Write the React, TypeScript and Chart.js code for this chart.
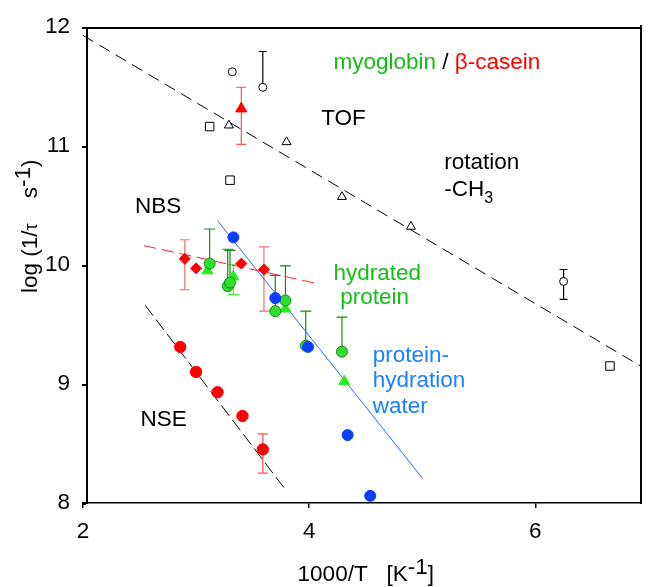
import React, { useEffect, useRef } from "react";
import { Chart, registerables } from "chart.js";

Chart.register(...registerables);

// ---------- data (1000/T in K^-1, log(1/tau s^-1)) ----------
// TOF, rotation -CH3 (open symbols)
const tofCircleX = [3.32, 3.59, 6.25];
const tofCircleY = [11.62, 11.49, 9.86];
const tofCircleLo = [null, null, 9.71];
const tofCircleHi = [null, 11.79, 9.96];

const tofSquareX = [3.12, 3.3, 6.66];
const tofSquareY = [11.16, 10.71, 9.15];

const tofTriangleX = [3.29, 3.8, 4.29, 4.9];
const tofTriangleY = [11.17, 11.03, 10.57, 10.32];

// beta-casein TOF (red triangle)
const caseinTofX = [3.4];
const caseinTofY = [11.31];
const caseinTofLo = [11.01];
const caseinTofHi = [11.49];

// beta-casein NBS (red diamonds)
const caseinNbsX = [2.9, 3.0, 3.4, 3.6];
const caseinNbsY = [10.05, 9.97, 10.01, 9.96];
const caseinNbsLo = [9.79, null, null, 9.61];
const caseinNbsHi = [10.21, null, null, 10.15];

// myoglobin hydrated protein (green circles)
const myoCircleX = [3.12, 3.28, 3.3, 3.7, 3.79, 3.97, 4.29];
const myoCircleY = [10.01, 9.82, 9.85, 9.61, 9.7, 9.32, 9.27];
const myoCircleHi = [10.3, 10.13, 10.12, 9.91, 9.99, 9.61, 9.56];

// myoglobin (green triangles)
const myoTriX = [3.1, 3.33, 3.79, 4.31];
const myoTriY = [9.95, 9.9, 9.63, 9.02];
const myoTriLo = [null, 9.75, null, null];
const myoTriHi = [null, 10.0, null, null];

// protein-hydration water (blue circles)
const waterX = [3.33, 3.7, 3.99, 4.34, 4.54];
const waterY = [10.23, 9.72, 9.31, 8.57, 8.06];

// NSE beta-casein (red circles)
const nseX = [2.86, 3.0, 3.19, 3.41, 3.59];
const nseY = [9.31, 9.1, 8.93, 8.73, 8.45];
const nseLo = [null, 9.08, null, null, 8.25];
const nseHi = [null, 9.12, null, null, 8.58];

// fit lines
const tofFitX = [2.0, 6.93];
const tofFitY = [11.925, 9.15];
const nbsFitX = [2.54, 4.08];
const nbsFitY = [10.16, 9.84];
const waterFitX = [3.19, 5.0];
const waterFitY = [10.37, 8.21];
const nseFitX = [2.55, 3.8];
const nseFitY = [9.66, 8.1];

// axes
const xTickValues = [2, 4, 6];
const yTickValues = [8, 9, 10, 11, 12];
const xMin = 2;
const xMax = 6.93;
const yMin = 8;
const yMax = 12;

// in-plot labels (data coordinates of text start / baseline)
const labelTexts = [
  { x: 4.215, y: 11.646, parts: [{ t: "myoglobin", c: "#14be14" }, { t: " / ", c: "#000" }, { t: "β-casein", c: "#ff0000" }] },
  { x: 4.107, y: 11.175, parts: [{ t: "TOF", c: "#000" }] },
  { x: 5.195, y: 10.801, parts: [{ t: "rotation", c: "#000" }] },
  { x: 5.195, y: 10.58, parts: [{ t: "-CH", c: "#000" }, { t: "3", c: "#000", s: 16, dy: 7 }] },
  { x: 2.459, y: 10.436, parts: [{ t: "NBS", c: "#000" }] },
  { x: 4.215, y: 9.871, parts: [{ t: "hydrated", c: "#14be14" }] },
  { x: 4.274, y: 9.674, parts: [{ t: "protein", c: "#14be14" }] },
  { x: 4.562, y: 9.186, parts: [{ t: "protein-", c: "#1a80ff" }] },
  { x: 4.562, y: 8.972, parts: [{ t: "hydration", c: "#1a80ff" }] },
  { x: 4.562, y: 8.758, parts: [{ t: "water", c: "#1a80ff" }] },
  { x: 2.509, y: 8.65, parts: [{ t: "NSE", c: "#000" }] },
];

const FONT = '"Liberation Sans", Arial, sans-serif';
const FS = 22.5;

const pts = (xs: number[], ys: number[]) => xs.map((x, i) => ({ x, y: ys[i] }));

function drawParts(ctx: CanvasRenderingContext2D, parts: any[], x0: number, y0: number) {
  let x = x0;
  for (const p of parts) {
    ctx.font = `${p.s || FS}px ${FONT}`;
    ctx.fillStyle = p.c || "#000";
    ctx.fillText(p.t, x, y0 + (p.dy || 0));
    x += ctx.measureText(p.t).width;
  }
  return x;
}

const errorBarPlugin = {
  id: "errorBars",
  beforeDatasetsDraw(chart: any) {
    const ctx = chart.ctx;
    const yScale = chart.scales.y;
    chart.data.datasets.forEach((ds: any, di: number) => {
      if (!ds.errLo && !ds.errHi) return;
      const meta = chart.getDatasetMeta(di);
      ctx.save();
      ctx.strokeStyle = ds.errColor || "#000";
      ctx.lineWidth = 1.2;
      const cap = ds.capHalf || 4;
      meta.data.forEach((el: any, i: number) => {
        const lo = ds.errLo ? ds.errLo[i] : null;
        const hi = ds.errHi ? ds.errHi[i] : null;
        if (lo == null && hi == null) return;
        const x = el.x;
        const yc = el.y;
        const yl = lo != null ? yScale.getPixelForValue(lo) : yc;
        const yh = hi != null ? yScale.getPixelForValue(hi) : yc;
        ctx.beginPath();
        ctx.moveTo(x, yl);
        ctx.lineTo(x, yh);
        if (lo != null) {
          ctx.moveTo(x - cap, yl);
          ctx.lineTo(x + cap, yl);
        }
        if (hi != null) {
          ctx.moveTo(x - cap, yh);
          ctx.lineTo(x + cap, yh);
        }
        ctx.stroke();
      });
      ctx.restore();
    });
  },
};

const textPlugin = {
  id: "texts",
  afterDraw(chart: any) {
    const { ctx, chartArea } = chart;
    const xs = chart.scales.x;
    const ys = chart.scales.y;
    ctx.save();
    // frame: offset y axis line, top line, right line, y tick marks
    ctx.fillStyle = "#000000";
    const L = Math.round(chartArea.left);
    const T = Math.round(chartArea.top);
    const R = Math.round(chartArea.right);
    const B = Math.round(chartArea.bottom);
    const axX = L + 3;
    ctx.fillRect(axX, T, 2, B - T + 1);
    ctx.fillRect(axX, T, R - axX + 1, 2);
    ctx.fillRect(R - 1, T - 2, 2, B - T + 3);
    for (const v of yTickValues) {
      const y = Math.round(ys.getPixelForValue(v));
      ctx.fillRect(L - 1, y, axX - L + 1, 2);
    }

    ctx.textBaseline = "alphabetic";
    ctx.textAlign = "left";
    for (const l of labelTexts) {
      drawParts(ctx, l.parts, xs.getPixelForValue(l.x), ys.getPixelForValue(l.y));
    }
    // x axis title
    const xParts = [{ t: "1000/T   [K" }, { t: "-1", dy: -7 }, { t: "]" }];
    ctx.font = `${FS}px ${FONT}`;
    let w = 0;
    for (const p of xParts) w += ctx.measureText(p.t).width;
    const cx = (chartArea.left + chartArea.right) / 2;
    drawParts(ctx, xParts, cx - w / 2 + 4, chartArea.bottom + 78);
    // y axis title
    ctx.translate(37, chartArea.bottom - 210);
    ctx.rotate(-Math.PI / 2);
    drawParts(
      ctx,
      [{ t: "log (1/" }, { t: "τ", s: 18 }, { t: "    s" }, { t: "-1", dy: -7 }, { t: ")" }],
      0,
      0
    );
    ctx.restore();
  },
};

export default function App() {
  const ref = useRef<HTMLCanvasElement>(null);
  useEffect(() => {
    const canvas = ref.current!;
    const lineDs = (xs: number[], ys: number[], color: string, dash: number[], width = 1) => ({
      type: "line",
      data: pts(xs, ys),
      borderColor: color,
      borderWidth: width,
      borderDash: dash,
      pointRadius: 0,
      showLine: true,
      fill: false,
      order: 20,
    });
    const chart = new Chart(canvas, {
      type: "scatter",
      data: {
        datasets: [
          lineDs(tofFitX, tofFitY, "#000", [12, 7]) as any,
          lineDs(nbsFitX, nbsFitY, "#ff2020", [12, 6]) as any,
          lineDs(waterFitX, waterFitY, "#2a6cff", []) as any,
          lineDs(nseFitX, nseFitY, "#000", [13, 5]) as any,
          {
            label: "TOF circles",
            data: pts(tofCircleX, tofCircleY),
            pointStyle: "circle",
            pointRadius: 4,
            backgroundColor: "#fff",
            borderColor: "#000",
            borderWidth: 1,
            errLo: tofCircleLo,
            errHi: tofCircleHi,
            errColor: "#000",
            capHalf: 4,
            order: 5,
          } as any,
          {
            label: "TOF squares",
            data: pts(tofSquareX, tofSquareY),
            pointStyle: "rect",
            pointRadius: 6,
            backgroundColor: "#fff",
            borderColor: "#000",
            borderWidth: 1,
            order: 5,
          },
          {
            label: "TOF triangles",
            data: pts(tofTriangleX, tofTriangleY),
            pointStyle: "triangle",
            pointRadius: 5.2,
            backgroundColor: "#fff",
            borderColor: "#000",
            borderWidth: 1,
            order: 5,
          },
          {
            label: "beta-casein TOF",
            data: pts(caseinTofX, caseinTofY),
            pointStyle: "triangle",
            pointRadius: 6.5,
            backgroundColor: "#ff0000",
            borderColor: "#ff0000",
            borderWidth: 1,
            errLo: caseinTofLo,
            errHi: caseinTofHi,
            errColor: "#ff5050",
            capHalf: 5,
            order: 4,
          } as any,
          {
            label: "beta-casein NBS",
            data: pts(caseinNbsX, caseinNbsY),
            pointStyle: "rectRot",
            pointRadius: 5.5,
            backgroundColor: "#ff0000",
            borderColor: "#ff0000",
            borderWidth: 1,
            errLo: caseinNbsLo,
            errHi: caseinNbsHi,
            errColor: "#ff6b6b",
            capHalf: 5,
            order: 4,
          } as any,
          {
            label: "myoglobin triangles",
            data: pts(myoTriX, myoTriY),
            pointStyle: "triangle",
            pointRadius: 6.3,
            backgroundColor: "#22ee22",
            borderColor: "#22ee22",
            borderWidth: 1,
            errLo: myoTriLo,
            errHi: myoTriHi,
            errColor: "#44ee44",
            capHalf: 5.5,
            order: 3,
          } as any,
          {
            label: "myoglobin circles",
            data: pts(myoCircleX, myoCircleY),
            pointStyle: "circle",
            pointRadius: 5.5,
            backgroundColor: "#2ee02e",
            borderColor: "#128c12",
            borderWidth: 1,
            errHi: myoCircleHi,
            errColor: "#138a13",
            capHalf: 5.5,
            order: 2,
          } as any,
          {
            label: "hydration water",
            data: pts(waterX, waterY),
            pointStyle: "circle",
            pointRadius: 5.5,
            backgroundColor: "#0b3dff",
            borderColor: "#0b3dff",
            borderWidth: 1,
            order: 1,
          },
          {
            label: "NSE",
            data: pts(nseX, nseY),
            pointStyle: "circle",
            pointRadius: 5.7,
            backgroundColor: "#ff0000",
            borderColor: "#ff0000",
            borderWidth: 1,
            errLo: nseLo,
            errHi: nseHi,
            errColor: "#ff5050",
            capHalf: 5,
            order: 1,
          } as any,
        ],
      },
      options: {
        responsive: false,
        animation: false,
        devicePixelRatio: 1,
        layout: { padding: { top: 20.7, right: 7, left: 0, bottom: 0 } },
        plugins: {
          legend: { display: false },
          tooltip: { enabled: false },
          title: { display: false },
        },
        scales: {
          x: {
            type: "linear",
            position: "bottom",
            min: xMin,
            max: xMax,
            afterBuildTicks: (s: any) => {
              s.ticks = xTickValues.map((v) => ({ value: v }));
            },
            afterFit: (s: any) => {
              s.height = 84;
            },
            grid: {
              display: true,
              drawOnChartArea: false,
              drawTicks: true,
              tickLength: 5,
              color: "#000",
              lineWidth: 1.5,
            },
            border: { display: true, color: "#000", width: 1.5 },
            ticks: {
              color: "#000",
              font: { family: FONT, size: FS },
              padding: 10,
              maxRotation: 0,
            },
          },
          xTop: {
            type: "linear",
            position: "top",
            min: xMin,
            max: xMax,
            afterFit: (s: any) => {
              s.height = 0;
            },
            grid: { display: false, drawTicks: false },
            border: { display: false },
            ticks: { display: false },
          },
          y: {
            type: "linear",
            position: "left",
            min: yMin,
            max: yMax,
            afterBuildTicks: (s: any) => {
              s.ticks = yTickValues.map((v) => ({ value: v }));
            },
            afterFit: (s: any) => {
              s.width = 83;
            },
            grid: { display: false, drawTicks: false },
            border: { display: false },
            ticks: {
              color: "#000",
              font: { family: FONT, size: FS },
              padding: 13,
            },
          },
        },
      } as any,
      plugins: [errorBarPlugin, textPlugin],
    });
    return () => chart.destroy();
  }, []);
  return (
    <div style={{ position: "fixed", left: 0, top: 0, width: 648, height: 587, background: "#fff" }}>
      <canvas ref={ref} width={648} height={587} style={{ display: "block", width: 648, height: 587 }} />
    </div>
  );
}
